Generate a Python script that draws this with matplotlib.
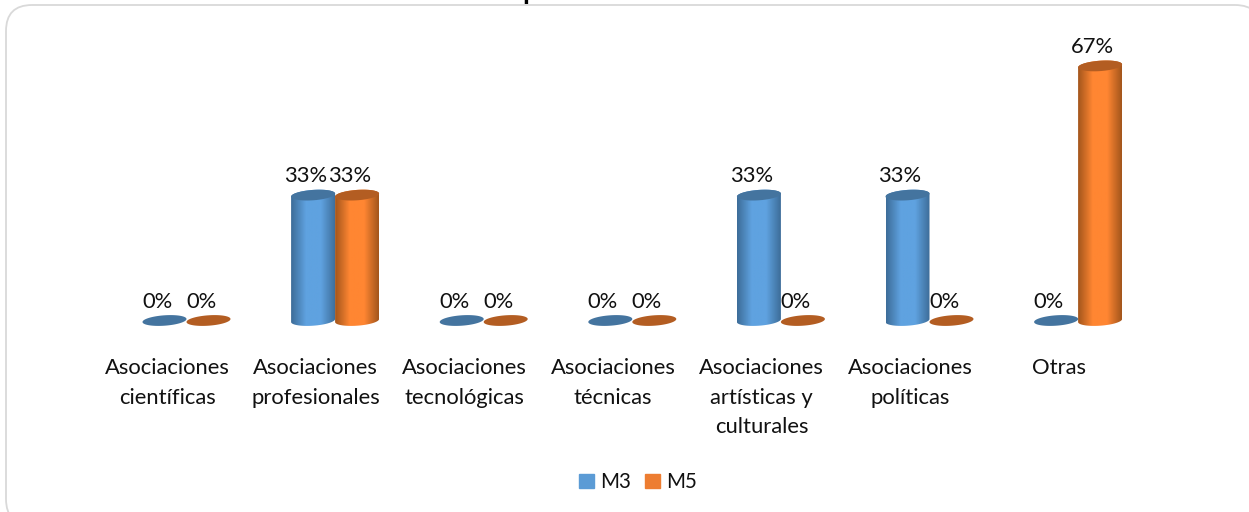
import numpy as np
import matplotlib
matplotlib.use("Agg")
import matplotlib.pyplot as plt
from matplotlib.colors import LinearSegmentedColormap
from matplotlib.patches import FancyBboxPatch, Patch, PathPatch, Polygon
from matplotlib.path import Path
from matplotlib.transforms import Affine2D

categories = ["Asociaciones\ncientíficas", "Asociaciones\nprofesionales", "Asociaciones\ntecnológicas",
              "Asociaciones\ntécnicas", "Asociaciones\nartísticas y\nculturales", "Asociaciones\npolíticas", "Otras"]
m3 = [0, 33, 0, 0, 33, 33, 0]
m5 = [0, 33, 0, 0, 0, 0, 67]

W, H = 1249, 512
plt.rcParams['font.family'] = ['Lato', 'DejaVu Sans']

fig = plt.figure(figsize=(W / 100, H / 100), dpi=100)
ax = fig.add_axes([0, 0, 1, 1])

# echelle : 1 categorie = 148.6 px, 1 % = 3.8 px
px_x = 148.6
px_y = 3.8
x0, y0 = 186.5, 320.5
bar_w = 44 / px_x
fs = 15.8

# cadre arrondi en pixels, il depasse a droite et en bas de l'image
px = Affine2D().scale(1, -1).translate(0, H)
frame = FancyBboxPatch((6, 5), 1255, 520, boxstyle="round,pad=0,rounding_size=26",
                       transform=px, fc='white', ec='#d9d9d9', lw=1.3, zorder=0, clip_on=False)
ax.add_patch(frame)


def ellipse_pts(cx, v, start=0, stop=2 * np.pi):
    t = np.linspace(start, stop, 80)
    a = bar_w / 2
    xs = cx + a * np.cos(t)
    ys = v + (5.2 * np.sin(t) + 1.5 * np.cos(t)) / px_y
    return np.column_stack([xs, ys])


def cylinder(cx, v, edge, mid, cap):
    if v > 0:
        bottom = ellipse_pts(cx, 0, np.pi, 2 * np.pi)
        top = ellipse_pts(cx, v, 0, np.pi)
        body = Path(np.vstack([bottom, top, bottom[:1]]), closed=True)
        cmap = LinearSegmentedColormap.from_list("c", [edge, mid, mid, edge])
        im = ax.imshow(np.linspace(0, 1, 64)[None, :], cmap=cmap, aspect='auto',
                       extent=[cx - bar_w / 2, cx + bar_w / 2, -2, v + 2], zorder=2)
        clip = PathPatch(body, transform=ax.transData, fc='none', ec='none')
        ax.add_patch(clip)
        im.set_clip_path(clip)
    ax.add_patch(Polygon(ellipse_pts(cx, v), closed=True, fc=cap, ec='none', zorder=3))


for i in range(len(categories)):
    cylinder(i - bar_w / 2, m3[i], '#3d6d99', '#5fa2e0', '#44749f')
    cylinder(i + bar_w / 2, m5[i], '#a4561c', '#ff8632', '#b35d22')
    ax.text(i - bar_w / 2 - 0.05, m3[i] + 4.9, f"{m3[i]}%", ha='center', va='center', fontsize=fs, color='#111111', zorder=5)
    ax.text(i + bar_w / 2 - 0.05, m5[i] + 4.9, f"{m5[i]}%", ha='center', va='center', fontsize=fs, color='#111111', zorder=5)
    ax.text(i - 0.13, -9.9, categories[i], ha='center', va='top', fontsize=fs, color='#111111', linespacing=1.6)

ax.set_xlim(-x0 / px_x, (W - x0) / px_x)
ax.set_ylim(-(H - y0) / px_y, y0 / px_y)
ax.axis('off')

ax.legend(handles=[Patch(color='#5b9bd5', label='M3'), Patch(color='#ed7d31', label='M5')],
          loc='center', bbox_to_anchor=(638 / W, 1 - 482 / H), ncol=2, frameon=False, fontsize=14.8,
          labelcolor='#111111', handlelength=0.7, handleheight=0.7, handletextpad=0.3, columnspacing=0.7)

# bas du titre coupe par le bord de l'image
fig.text(530 / W, 1.002, "p", ha='center', va='baseline', fontsize=20, fontweight='bold', color='black')

fig.savefig("out.png", dpi=100)
